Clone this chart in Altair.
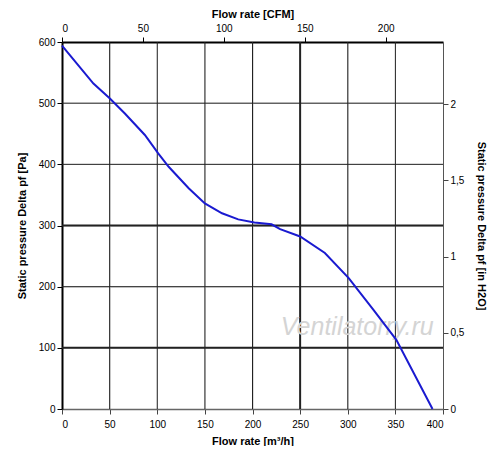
import altair as alt
import pandas as pd

# Fan curve: flow rate [m3/h] vs static pressure [Pa]
flow = [0, 33, 50, 66, 87, 101, 112, 133, 150, 168, 185, 202, 220, 229, 250, 276, 301, 327, 351, 389]
pressure = [594, 532, 508, 483, 448, 418, 396, 361, 336, 320, 310, 305, 302, 294, 282, 255, 214, 162, 113, 0]

x_ticks = [0, 50, 100, 150, 200, 250, 300, 350, 400]
y_ticks = [0, 100, 200, 300, 400, 500, 600]
cfm_ticks = [0, 50, 100, 150, 200]
inh2o_ticks = [0, 0.5, 1, 1.5, 2]

grid_x = [50, 100, 150, 200, 250, 300, 350]
grid_x_bold = [250]
grid_y = [100, 200, 300, 400, 500]
grid_y_bold = [100, 300]

X_MAX = 400
Y_MAX = 600
M3H_PER_CFM = 1.699
PA_PER_INH2O = 249.089

watermark = ["Ventilatorry.ru"]
wm_pos_x = [310]
wm_pos_y = [134]

FONT = "Liberation Sans"

curve_df = pd.DataFrame({"flow": flow, "pressure": pressure})
gx_df = pd.DataFrame({"v": grid_x, "bold": [v in grid_x_bold for v in grid_x]})
gy_df = pd.DataFrame({"v": grid_y, "bold": [v in grid_y_bold for v in grid_y]})
wm_df = pd.DataFrame({"x": wm_pos_x, "y": wm_pos_y, "t": watermark})
sec_df = pd.DataFrame({"cfm": [0, X_MAX / M3H_PER_CFM], "inh2o": [0, Y_MAX / PA_PER_INH2O]})

xs = alt.Scale(domain=[0, X_MAX], nice=False, zero=False)
ys = alt.Scale(domain=[0, Y_MAX], nice=False, zero=False)

x_axis = alt.Axis(orient="bottom", values=x_ticks, title="Flow rate [m³/h]",
                  domainColor="#666", tickColor="#444", domainWidth=1.5, titlePadding=6, labelPadding=5)
y_axis = alt.Axis(orient="left", values=y_ticks, title="Static pressure Delta pf [Pa]",
                  domainColor="#000", domainWidth=2, tickColor="#000", titlePadding=11, labelPadding=2)

# The curve layer carries the axes; the others reuse the same definitions.
curve = alt.Chart(curve_df).mark_line(color="#1a1ad0", strokeWidth=2).encode(
    x=alt.X("flow:Q", scale=xs, axis=x_axis),
    y=alt.Y("pressure:Q", scale=ys, axis=y_axis),
)

vgrid = alt.Chart(gx_df).mark_rule(color="#222").encode(
    x=alt.X("v:Q", scale=xs, axis=x_axis),
    strokeWidth=alt.condition("datum.bold", alt.value(2), alt.value(1)),
)
hgrid = alt.Chart(gy_df).mark_rule(color="#222").encode(
    y=alt.Y("v:Q", scale=ys, axis=y_axis),
    strokeWidth=alt.condition("datum.bold", alt.value(2), alt.value(1)),
)

wm = alt.Chart(wm_df).mark_text(
    font=FONT, fontSize=25, fontStyle="italic", color="#d4d4d4", align="center", baseline="middle"
).encode(
    x=alt.X("x:Q", scale=xs, axis=x_axis),
    y=alt.Y("y:Q", scale=ys, axis=y_axis),
    text="t:N",
)

primary = alt.layer(vgrid, hgrid, wm, curve)

secondary = alt.Chart(sec_df).mark_point(opacity=0).encode(
    x=alt.X("cfm:Q", scale=alt.Scale(domain=[0, X_MAX / M3H_PER_CFM], nice=False, zero=False),
            axis=alt.Axis(orient="top", values=cfm_ticks, title="Flow rate [CFM]",
                          domainColor="#000", domainWidth=2, tickColor="#000", titlePadding=4, labelPadding=4)),
    y=alt.Y("inh2o:Q", scale=alt.Scale(domain=[0, Y_MAX / PA_PER_INH2O], nice=False, zero=False),
            axis=alt.Axis(orient="right", values=inh2o_ticks, title="Static pressure Delta pf [in H2O]",
                          labelExpr="replace(format(datum.value, '~g'), '.', ',')",
                          domainColor="#555", domainWidth=1, tickColor="#444", titlePadding=12, labelPadding=2)),
)

chart = alt.layer(primary, secondary).resolve_scale(x="independent", y="independent").properties(
    width=381, height=367,
    autosize="none",
    padding={"left": 54, "top": 34, "right": 48, "bottom": 37},
).configure_view(stroke=None).configure_axis(
    labelFont=FONT, labelFontSize=10, labelColor="#333",
    titleFont=FONT, titleFontSize=9, titleFontWeight="bold", titleColor="#111",
    tickSize=5, grid=False,
).configure(background="white")

chart.save("out.html", embed_options={"renderer": "svg", "actions": False})
